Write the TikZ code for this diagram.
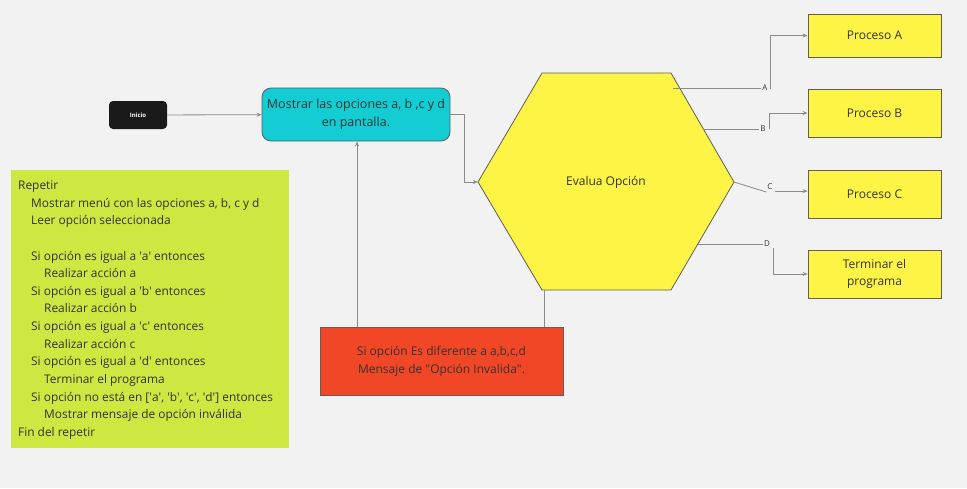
\documentclass[tikz,border=0pt]{standalone}
\usepackage{fontspec}
\setmainfont{Open Sans}
\usetikzlibrary{arrows.meta,calc}
\definecolor{bgc}{HTML}{F2F2F2}
\definecolor{cyanc}{HTML}{12CDD4}
\definecolor{yelc}{HTML}{FEF445}
\definecolor{redc}{HTML}{F24726}
\definecolor{greenc}{HTML}{CEE741}
\definecolor{blackc}{HTML}{1A1A1A}
\definecolor{borderc}{HTML}{5E5E5E}
\definecolor{linec}{HTML}{8A8A8A}
\definecolor{txtc}{HTML}{333333}
\newcommand{\sq}{\textquotesingle}
\tikzset{
  box/.style={draw=borderc, line width=0.8pt, text=txtc, font=\fontsize{12}{15}\selectfont, align=center, inner sep=0pt},
  procbox/.style={box, fill=yelc, minimum width=133pt},
  conn/.style={draw=linec, line width=0.8pt},
  arr/.style={conn, -{Stealth[length=5pt,width=4pt]}},
  lab/.style={text=txtc, font=\fontsize{8}{9}\selectfont, inner sep=1pt},
}
\begin{document}
\begin{tikzpicture}[x=1pt,y=-1pt]
\fill[bgc] (0,0) rectangle (967,488);
\useasboundingbox (0,0) rectangle (967,488);

% start
\node[fill=blackc, rounded corners=4pt, minimum width=58pt, minimum height=28pt, text=white, font=\bfseries\fontsize{6}{7}\selectfont] (ini) at (138,115) {Inicio};
% cyan box
\node[box, fill=cyanc, rounded corners=9pt, minimum width=188pt, minimum height=53pt, font=\fontsize{12.5}{18}\selectfont] (show) at (356,114.5) {Mostrar las opciones a, b ,c y d\\en pantalla.};
% hexagon
\coordinate (hL) at (478,182);
\coordinate (hTL) at (542,73);
\coordinate (hTR) at (671,73);
\coordinate (hR) at (734,182);
\coordinate (hBR) at (671,290);
\coordinate (hBL) at (542,290);
\filldraw[fill=yelc, draw=borderc, line width=0.8pt] (hL) -- (hTL) -- (hTR) -- (hR) -- (hBR) -- (hBL) -- cycle;
\node[text=txtc, font=\fontsize{12}{15}\selectfont] (hex) at (606,182) {Evalua Opción};
\coordinate (hA) at (673,88);
\coordinate (hB) at (703,129);
\coordinate (hD) at (698,244);
\coordinate (hBot) at (544,290);

% process boxes
\node[procbox, minimum height=43pt] (pA) at (874.5,35.5) {Proceso A};
\node[procbox, minimum height=48pt] (pB) at (874.5,113) {Proceso B};
\node[procbox, minimum height=48pt] (pC) at (874.5,194) {Proceso C};
\node[procbox, minimum height=48pt, font=\fontsize{12}{17}\selectfont] (pD) at (874.5,274) {Terminar el\\programa};

% red box
\node[box, fill=redc, minimum width=243pt, minimum height=68pt, font=\fontsize{12}{18}\selectfont] (red) at (441.5,361) {Si opción Es diferente a a,b,c,d\\Mensaje de \textquotedbl Opción Invalida\textquotedbl.};

% green box
\node[fill=greenc, minimum width=278pt, minimum height=278pt, anchor=north west, inner sep=0pt] (pseudo) at (11,170) {};
\node[anchor=north west, inner sep=0pt, align=left, text=txtc, font=\fontsize{11.9}{17.65}\selectfont] (code) at ([xshift=7pt,yshift=-10.5pt]pseudo.north west) {%
Repetir\\
\hspace*{13pt}Mostrar menú con las opciones a, b, c y d\\
\hspace*{13pt}Leer opción seleccionada\\
\strut\\
\hspace*{13pt}Si opción es igual a \sq a\sq{} entonces\\
\hspace*{26pt}Realizar acción a\\
\hspace*{13pt}Si opción es igual a \sq b\sq{} entonces\\
\hspace*{26pt}Realizar acción b\\
\hspace*{13pt}Si opción es igual a \sq c\sq{} entonces\\
\hspace*{26pt}Realizar acción c\\
\hspace*{13pt}Si opción es igual a \sq d\sq{} entonces\\
\hspace*{26pt}Terminar el programa\\
\hspace*{13pt}Si opción no está en [\sq a\sq, \sq b\sq, \sq c\sq, \sq d\sq] entonces\\
\hspace*{26pt}Mostrar mensaje de opción inválida\\
Fin del repetir};

% labels
\node[lab] (lA) at (765,88) {A};
\node[lab] (lB) at (763,129) {B};
\node[lab] (lC) at (770,187) {C};
\node[lab] (lD) at (767,244) {D};

% connectors
\draw[arr] (ini) -- (show);
\draw[arr] (show.east) -- ++(14,0) |- (hL);
\draw[conn] (hA) -- (lA.west);
\draw[arr] ([xshift=2pt,yshift=-1pt]lA.east) |- (pA.west);
\draw[conn] (hB) -- (lB.west);
\draw[arr] ([xshift=3pt]lB.east) |- (pB.west);
\draw[conn] (hR) -- ([yshift=-5pt]lC.west);
\draw[arr] ([xshift=1pt,yshift=0pt]lC.south east) -- (lC.south east -| pC.west);
\draw[conn] (hD) -- (lD.west);
\draw[arr] ([xshift=2pt]lD.south east) |- (pD.west);
\draw[conn] (hBot) -- (hBot |- red.north);
\draw[arr] ([xshift=1pt]show.south |- red.north) -- ([xshift=1pt]show.south);
\end{tikzpicture}
\end{document}
